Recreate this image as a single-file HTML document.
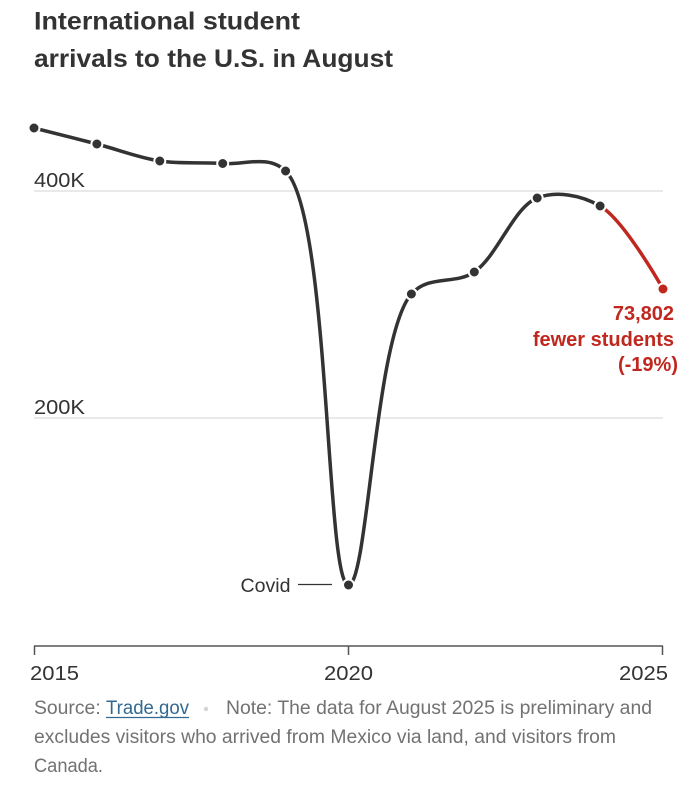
<!DOCTYPE html>
<html>
<head>
<meta charset="utf-8">
<style>
  html, body { margin: 0; padding: 0; background: #ffffff; }
  body { width: 698px; height: 800px; overflow: hidden; }
  svg { display: block; }
  text { font-family: "Liberation Sans", "DejaVu Sans", sans-serif; }
</style>
</head>
<body>
<svg width="698" height="800" viewBox="0 0 698 800" xmlns="http://www.w3.org/2000/svg">
  <rect x="0" y="0" width="698" height="800" fill="#ffffff"/>

  <!-- Title -->
  <text x="34" y="29.5" font-size="25" font-weight="bold" fill="#333333" textLength="266" lengthAdjust="spacingAndGlyphs">International student</text>
  <text x="34" y="67" font-size="25" font-weight="bold" fill="#333333" textLength="359" lengthAdjust="spacingAndGlyphs">arrivals to the U.S. in August</text>

  <!-- Gridlines -->
  <line x1="34" y1="191" x2="663" y2="191" stroke="#e2e2e2" stroke-width="1.5"/>
  <line x1="34" y1="418" x2="663" y2="418" stroke="#e2e2e2" stroke-width="1.5"/>
  <text x="34" y="187" font-size="20" fill="#333333" textLength="51" lengthAdjust="spacingAndGlyphs">400K</text>
  <text x="34" y="414" font-size="20" fill="#333333" textLength="51" lengthAdjust="spacingAndGlyphs">200K</text>

  <!-- X axis -->
  <line x1="34" y1="646" x2="663" y2="646" stroke="#555555" stroke-width="1.5"/>
  <line x1="34.5" y1="646" x2="34.5" y2="655" stroke="#555555" stroke-width="1.5"/>
  <line x1="348.5" y1="646" x2="348.5" y2="655" stroke="#555555" stroke-width="1.5"/>
  <line x1="662.5" y1="646" x2="662.5" y2="655" stroke="#555555" stroke-width="1.5"/>
  <text x="30" y="680" font-size="20" fill="#333333" textLength="49" lengthAdjust="spacingAndGlyphs">2015</text>
  <text x="324" y="680" font-size="20" fill="#333333" textLength="49" lengthAdjust="spacingAndGlyphs">2020</text>
  <text x="619" y="680" font-size="20" fill="#333333" textLength="49" lengthAdjust="spacingAndGlyphs">2025</text>

  <!-- Main line (2015-2024) -->
  <path d="M34,128
           C34,128 75.95,138.51 96.9,144
           C117.89,149.51 138.65,157.76 159.8,161
           C180.59,164.18 201.77,161.84 222.7,163.5
           C243.70,165.17 268.22,154.17 285.6,171
           C330.28,214.27 325.42,584.28 348.5,585
           C367.96,585.6 374.58,335.68 411.4,294
           C428.82,274.28 454.96,285.27 474.3,272
           C497.64,255.98 513.48,207.2 537.2,198
           C556.37,190.57 581.15,195.04 600.1,206"
        fill="none" stroke="#333333" stroke-width="3.5" stroke-linejoin="round" stroke-linecap="round"/>
  <!-- Red segment -->
  <path d="M600.1,206 C624.38,220.05 663,289 663,289" fill="none" stroke="#c0281f" stroke-width="3.5" stroke-linecap="round"/>

  <!-- Dots -->
  <g fill="#333333" stroke="#ffffff" stroke-width="2">
    <circle cx="34" cy="128" r="5.5"/>
    <circle cx="96.9" cy="144" r="5.5"/>
    <circle cx="159.8" cy="161" r="5.5"/>
    <circle cx="222.7" cy="163.5" r="5.5"/>
    <circle cx="285.6" cy="171" r="5.5"/>
    <circle cx="348.5" cy="585" r="5.5"/>
    <circle cx="411.4" cy="294" r="5.5"/>
    <circle cx="474.3" cy="272" r="5.5"/>
    <circle cx="537.2" cy="198" r="5.5"/>
    <circle cx="600.1" cy="206" r="5.5"/>
  </g>
  <circle cx="663" cy="289" r="5.5" fill="#c0281f" stroke="#ffffff" stroke-width="2"/>

  <!-- Covid annotation -->
  <text x="240.5" y="592" font-size="19.5" fill="#333333" textLength="50" lengthAdjust="spacingAndGlyphs">Covid</text>
  <line x1="298" y1="584.5" x2="332" y2="584.5" stroke="#333333" stroke-width="1.2"/>

  <!-- Red annotation -->
  <g font-size="20" font-weight="bold" fill="#c0281f" text-anchor="end">
    <text x="674" y="320">73,802</text>
    <text x="674" y="346">fewer students</text>
    <text x="678" y="371">(-19%)</text>
  </g>

  <!-- Footer -->
  <g font-size="19" fill="#727272">
    <text x="34" y="714" textLength="66.7" lengthAdjust="spacingAndGlyphs">Source:</text>
    <text x="106" y="714" fill="#326891" textLength="83" lengthAdjust="spacingAndGlyphs">Trade.gov</text>
    <text x="226" y="714" textLength="426" lengthAdjust="spacingAndGlyphs">Note: The data for August 2025 is preliminary and</text>
    <text x="34" y="743" textLength="582" lengthAdjust="spacingAndGlyphs">excludes visitors who arrived from Mexico via land, and visitors from</text>
    <text x="34" y="772" textLength="69" lengthAdjust="spacingAndGlyphs">Canada.</text>
  </g>
  <line x1="106" y1="717.5" x2="189" y2="717.5" stroke="#326891" stroke-width="1.3"/>
  <circle cx="206" cy="709" r="2.2" fill="#d4d4d4"/>
</svg>
</body>
</html>
